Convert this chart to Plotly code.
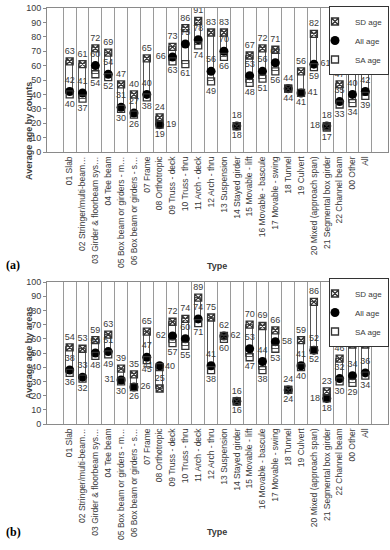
import plotly.graph_objects as go

categories = ["01 Slab", "02 Stringer/multi-beam…", "03 Girder & floorbeam sys…", "04 Tee beam",
              "05 Box beam or girders - m…", "06 Box beam or girders - s…", "07 Frame", "08 Orthotropic",
              "09 Truss - deck", "10 Truss - thru", "11 Arch - deck", "12 Arch - thru", "13 Suspension",
              "14 Stayed girder", "15 Movable - lift", "16 Movable - bascule", "17 Movable - swing",
              "18 Tunnel", "19 Culvert", "20 Mixed (approach span)", "21 Segmental box girder",
              "22 Channel beam", "00 Other", "All"]

# (a) by counts
sd_counts = [63, 61, 72, 69, 47, 40, 65, 24, 73, 86, 91, 83, 83, 18, 67, 72, 71, 44, 56, 82, 18, 47, 63, 63]
all_counts = [42, 41, 60, 54, 31, 27, 40, 19, 66, 75, 78, 56, 70, 18, 53, 56, 62, 44, 41, 61, 18, 35, 40, 42]
sa_counts = [40, 37, 54, 52, 30, 26, 38, 19, 63, 61, 74, 49, 66, 18, 48, 51, 56, 44, 41, 59, 17, 33, 34, 39]

# (b) by areas
sd_areas = [54, 53, 59, 63, 39, 35, 65, 25, 72, 74, 89, 75, 62, 16, 70, 69, 66, 24, 59, 86, 23, 46, 56, 56]
all_areas = [38, 33, 50, 51, 31, 26, 47, 41, 62, 60, 74, 41, 62, 16, 53, 44, 58, 24, 41, 52, 18, 32, 34, 36]
sa_areas = [36, 32, 48, 49, 30, 26, 45, 40, 57, 55, 71, 38, 60, 16, 47, 38, 53, 24, 40, 52, 18, 30, 29, 34]

y_ticks = list(range(0, 101, 10))

TXT = "#3a3a3a"
FONT = "Liberation Sans, Arial, sans-serif"

def all_pos(exceptions):
    p = ["top center"] * len(categories)
    for i, v in exceptions.items():
        p[i] = v
    return p

all_pos_a = all_pos({7: "middle right", 8: "middle left", 18: "middle right", 19: "middle right", 20: "middle left"})
all_pos_b = all_pos({4: "middle left", 5: "middle right", 7: "middle left", 8: "middle left", 12: "middle right",
                     16: "middle right", 20: "middle left"})
sa_pos_a = ["bottom center"] * len(categories)
sa_pos_b = ["bottom center"] * len(categories)
sa_pos_b[7] = "middle right"

# labels hidden in the reference where all three values coincide
hidden_all = {13, 17}

fig = go.Figure()

def add_panel(sd, al, sa, xa, ya, legend, apos, spos):
    lo = [min(a, b) for a, b in zip(sd, sa)]
    hi = [max(a, b) - min(a, b) for a, b in zip(sd, sa)]
    fig.add_trace(go.Bar(x=categories, y=hi, base=lo, width=0.5, xaxis=xa, yaxis=ya,
                         marker=dict(color="white", line=dict(color="#555555", width=1)),
                         showlegend=False, hoverinfo="skip"))
    fig.add_trace(go.Scatter(x=categories, y=al, mode="markers+text", name="All age", xaxis=xa, yaxis=ya,
                             legend=legend, legendrank=2,
                             marker=dict(symbol="circle", size=9, color="black"),
                             text=["" if i in hidden_all else str(v) for i, v in enumerate(al)],
                             textposition=apos,
                             textfont=dict(size=9, color=TXT, family=FONT)))
    fig.add_trace(go.Scatter(x=categories, y=sa, mode="markers+text", name="SA age", xaxis=xa, yaxis=ya,
                             legend=legend, legendrank=3,
                             marker=dict(symbol="square-open", size=7, color="#333333", line=dict(width=1.3)),
                             text=[str(v) for v in sa], textposition=spos,
                             textfont=dict(size=9, color=TXT, family=FONT)))
    fig.add_trace(go.Scatter(x=categories, y=sd, mode="markers+text", name="SD age", xaxis=xa, yaxis=ya,
                             legend=legend, legendrank=1,
                             marker=dict(symbol="square-x-open", size=7, color="#333333", line=dict(width=1.3)),
                             text=[str(v) for v in sd], textposition="top center",
                             textfont=dict(size=9, color=TXT, family=FONT)))

add_panel(sd_counts, all_counts, sa_counts, "x", "y", "legend", all_pos_a, sa_pos_a)
add_panel(sd_areas, all_areas, sa_areas, "x2", "y2", "legend2", all_pos_b, sa_pos_b)

H = 550.0
def dom(top_px, bot_px):
    return [1 - bot_px / H, 1 - top_px / H]

xcommon = dict(type="category", tickson="boundaries", showgrid=True, gridcolor="#9a9a9a", gridwidth=1,
               showline=True, linecolor="#8a8a8a", mirror=True, ticks="", tickangle=-90, automargin=False,
               tickfont=dict(size=8.5, color=TXT, family=FONT), domain=[47 / 390, 388 / 390])
ycommon = dict(range=[0, 100], tickvals=y_ticks, showgrid=False, zeroline=False, showline=True,
               linecolor="#8a8a8a", mirror=True, ticks="outside", ticklen=3, tickcolor="#8a8a8a",
               automargin=False, tickfont=dict(size=9, color=TXT, family=FONT))

legcommon = dict(bgcolor="white", bordercolor="#333333", borderwidth=1, font=dict(size=8, color=TXT, family=FONT),
                 xanchor="right", yanchor="top", tracegroupgap=0, itemwidth=30, indentation=-15)

fig.update_layout(
    width=390, height=550, margin=dict(l=0, r=0, t=0, b=0, autoexpand=False),
    paper_bgcolor="white", plot_bgcolor="white", barmode="overlay", bargap=0,
    xaxis=dict(**xcommon, anchor="y"),
    yaxis=dict(**ycommon, domain=dom(8, 152), anchor="x"),
    xaxis2=dict(**xcommon, anchor="y2"),
    yaxis2=dict(**ycommon, domain=dom(282, 424), anchor="x2"),
    legend=dict(**legcommon, x=389 / 390, y=1 - 6 / H),
    legend2=dict(**legcommon, x=389 / 390, y=1 - 278 / H),
    annotations=[
        dict(text="<b>Average age by counts</b>", x=22 / 390, y=1 - 80 / H, xref="paper", yref="paper",
             textangle=-90, showarrow=False, font=dict(size=9, color=TXT, family=FONT)),
        dict(text="<b>Average age by areas</b>", x=22 / 390, y=1 - 353 / H, xref="paper", yref="paper",
             textangle=-90, showarrow=False, font=dict(size=9, color=TXT, family=FONT)),
        dict(text="<b>Type</b>", x=217 / 390, y=1 - 266 / H, xref="paper", yref="paper",
             showarrow=False, font=dict(size=9, color=TXT, family=FONT)),
        dict(text="<b>Type</b>", x=217 / 390, y=1 - 539 / H, xref="paper", yref="paper",
             showarrow=False, font=dict(size=9, color=TXT, family=FONT)),
        dict(text="<b>(a)</b>", x=4 / 390, y=1 - 265 / H, xref="paper", yref="paper", xanchor="left",
             showarrow=False, font=dict(size=12, color="black", family="Liberation Serif, Times New Roman, serif")),
        dict(text="<b>(b)</b>", x=4 / 390, y=1 - 541 / H, xref="paper", yref="paper", xanchor="left",
             showarrow=False, font=dict(size=12, color="black", family="Liberation Serif, Times New Roman, serif")),
    ],
)

fig.write_html("out.html", config={"displayModeBar": False},
               post_script="document.body.style.margin='0';document.body.style.overflow='hidden';")
